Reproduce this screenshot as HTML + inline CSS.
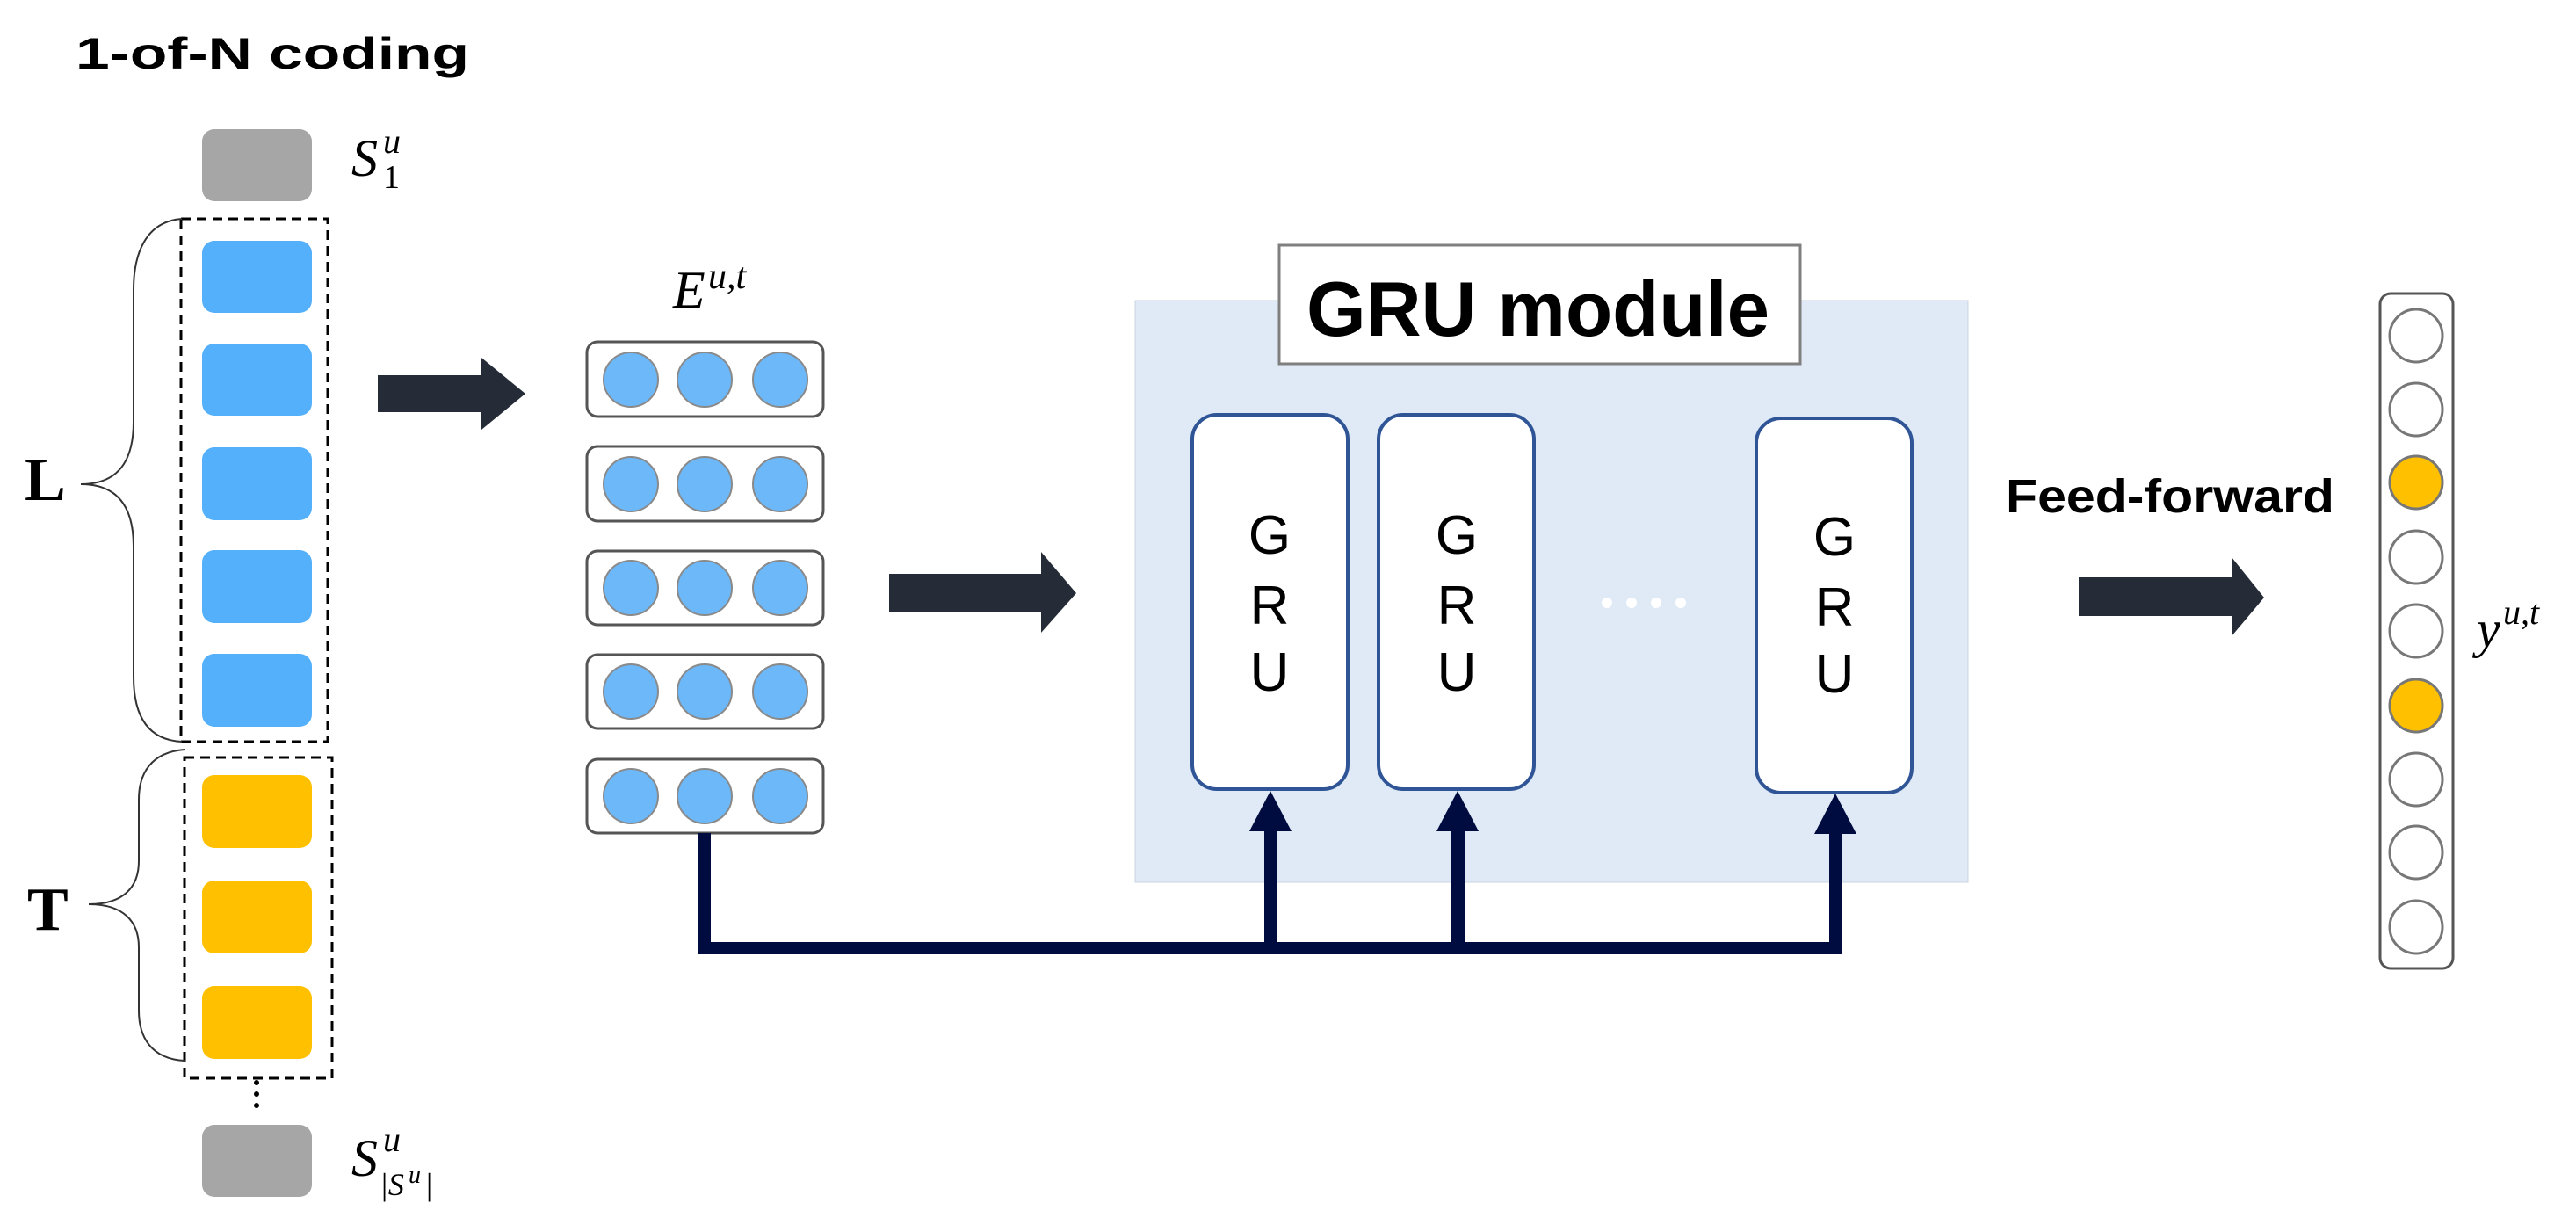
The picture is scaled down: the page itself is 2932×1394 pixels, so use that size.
<!DOCTYPE html>
<html><head><meta charset="utf-8"><style>html,body{margin:0;padding:0;background:#fff}svg{display:block}</style></head>
<body>
<svg width="2932" height="1394" viewBox="0 0 2932 1394" xmlns="http://www.w3.org/2000/svg">
<text x="86" y="78" font-family="Liberation Sans, sans-serif" font-weight="bold" font-size="50" textLength="448" lengthAdjust="spacingAndGlyphs">1-of-N coding</text>

<!-- left column -->
<rect x="230" y="147" width="125" height="82" rx="14" fill="#a6a6a6"/>
<g fill="#55b0fc">
<rect x="230" y="274" width="125" height="82" rx="14"/>
<rect x="230" y="391" width="125" height="82" rx="14"/>
<rect x="230" y="509" width="125" height="83" rx="14"/>
<rect x="230" y="626" width="125" height="83" rx="14"/>
<rect x="230" y="744" width="125" height="83" rx="14"/>
</g>
<g fill="#ffc000">
<rect x="230" y="882" width="125" height="83" rx="14"/>
<rect x="230" y="1002" width="125" height="83" rx="14"/>
<rect x="230" y="1122" width="125" height="83" rx="14"/>
</g>
<rect x="230" y="1280" width="125" height="82" rx="14" fill="#a6a6a6"/>
<rect x="206" y="249" width="167" height="595" fill="none" stroke="#000" stroke-width="3" stroke-dasharray="11,7"/>
<rect x="210" y="862" width="168" height="365" fill="none" stroke="#000" stroke-width="3" stroke-dasharray="11,7"/>
<g fill="#000"><circle cx="292" cy="1232" r="3"/><circle cx="292" cy="1245" r="3"/><circle cx="292" cy="1258" r="3"/></g>

<path d="M207 249 C165 252 152 290 152 330 L152 480 C152 530 130 551 92 551 C130 551 152 572 152 622 L152 770 C152 810 165 842 207 844" fill="none" stroke="#333" stroke-width="2"/>
<path d="M210 853 C172 856 158 880 158 910 L158 980 C158 1010 140 1029 101 1029 C140 1029 158 1048 158 1078 L158 1150 C158 1180 172 1205 210 1207" fill="none" stroke="#333" stroke-width="2"/>
<text x="28" y="569" font-family="Liberation Serif, serif" font-size="70" font-weight="bold">L</text>
<text x="31" y="1058" font-family="Liberation Serif, serif" font-size="70" font-weight="bold">T</text>

<g font-family="Liberation Serif, serif" font-style="italic">
<text x="400" y="200" font-size="60">S</text>
<text x="436" y="174" font-size="40">u</text>
<text x="436" y="214" font-size="38" font-style="normal">1</text>
<text x="400" y="1338" font-size="60">S</text>
<text x="436" y="1310" font-size="40">u</text>
<text x="432" y="1360" font-size="36">|S</text>
<text x="465" y="1346" font-size="28">u</text>
<text x="485" y="1360" font-size="36" font-style="normal">|</text>
<text x="766" y="350" font-size="60">E</text>
<text x="806" y="328" font-size="42">u,t</text>
<text x="2819" y="736" font-size="60">y</text>
<text x="2849" y="710" font-size="40">u,t</text>
</g>

<!-- arrows -->
<g fill="#252c38">
<path d="M430 427 H548 V407 L598 448 L548 489 V469 H430 Z"/>
<path d="M1012 653 H1185 V628 L1225 675 L1185 720 V696 H1012 Z"/>
<path d="M2366 657 H2540 V634 L2577 680 L2540 724 V701 H2366 Z"/>
</g>

<!-- E boxes -->
<g stroke="#555" stroke-width="3" fill="#fff">
<rect x="668" y="389" width="269" height="85" rx="12"/>
<rect x="668" y="508" width="269" height="85" rx="12"/>
<rect x="668" y="627" width="269" height="84" rx="12"/>
<rect x="668" y="745" width="269" height="84" rx="12"/>
<rect x="668" y="864" width="269" height="84" rx="12"/>
</g>
<g fill="#6cb8f8" stroke="#8a8a8a" stroke-width="2">
<circle cx="718" cy="432" r="31"/><circle cx="802" cy="432" r="31"/><circle cx="888" cy="432" r="31"/>
<circle cx="718" cy="551" r="31"/><circle cx="802" cy="551" r="31"/><circle cx="888" cy="551" r="31"/>
<circle cx="718" cy="669" r="31"/><circle cx="802" cy="669" r="31"/><circle cx="888" cy="669" r="31"/>
<circle cx="718" cy="787" r="31"/><circle cx="802" cy="787" r="31"/><circle cx="888" cy="787" r="31"/>
<circle cx="718" cy="906" r="31"/><circle cx="802" cy="906" r="31"/><circle cx="888" cy="906" r="31"/>
</g>

<!-- GRU module -->
<rect x="1292" y="342" width="948" height="662" fill="#dfeaf6" stroke="#c8d4e0" stroke-width="1"/>
<rect x="1456" y="279" width="593" height="135" fill="#fff" stroke="#7f7f7f" stroke-width="3"/>
<text x="1487" y="382" font-family="Liberation Sans, sans-serif" font-weight="bold" font-size="88" textLength="527" lengthAdjust="spacingAndGlyphs">GRU module</text>

<g fill="#fff" stroke="#2f5597" stroke-width="4">
<rect x="1357" y="472" width="177" height="426" rx="28"/>
<rect x="1569" y="472" width="177" height="426" rx="28"/>
<rect x="1999" y="476" width="177" height="426" rx="28"/>
</g>
<g font-family="Liberation Sans, sans-serif" font-size="62" text-anchor="middle" fill="#000">
<text x="1445" y="630">G</text><text x="1445" y="710">R</text><text x="1445" y="786">U</text>
<text x="1658" y="630">G</text><text x="1658" y="710">R</text><text x="1658" y="786">U</text>
<text x="2088" y="632">G</text><text x="2088" y="712">R</text><text x="2088" y="788">U</text>
</g>
<g fill="#fff"><circle cx="1829" cy="686" r="6"/><circle cx="1857" cy="686" r="6"/><circle cx="1885" cy="686" r="6"/><circle cx="1913" cy="686" r="6"/></g>

<!-- connector -->
<g fill="#000b3f">
<rect x="794" y="948" width="15" height="138"/>
<rect x="794" y="1072" width="1303" height="14"/>
<rect x="1439" y="940" width="15" height="140"/>
<rect x="1652" y="940" width="15" height="140"/>
<rect x="2082" y="944" width="15" height="140"/>
<path d="M1446 900 L1470 946 H1422 Z"/>
<path d="M1659 900 L1683 946 H1635 Z"/>
<path d="M2089 903 L2113 949 H2065 Z"/>
</g>

<text x="2283" y="583" font-family="Liberation Sans, sans-serif" font-weight="bold" font-size="54" textLength="374" lengthAdjust="spacingAndGlyphs">Feed-forward</text>

<!-- output -->
<rect x="2709" y="334" width="83" height="768" rx="12" fill="#fff" stroke="#555" stroke-width="3"/>
<g stroke="#777" stroke-width="3" fill="#fff">
<circle cx="2750" cy="382" r="30"/><circle cx="2750" cy="466" r="30"/>
<circle cx="2750" cy="549" r="30" fill="#ffc000"/>
<circle cx="2750" cy="634" r="30"/><circle cx="2750" cy="718" r="30"/>
<circle cx="2750" cy="803" r="30" fill="#ffc000"/>
<circle cx="2750" cy="887" r="30"/><circle cx="2750" cy="970" r="30"/><circle cx="2750" cy="1055" r="30"/>
</g>
</svg>
</body></html>
